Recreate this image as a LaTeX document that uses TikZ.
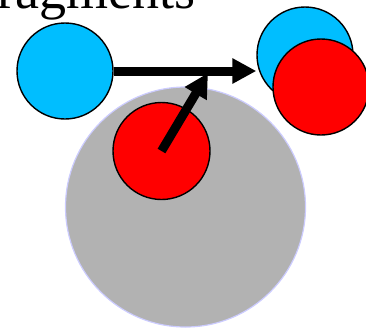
\documentclass[tikz,border=0pt]{standalone}
\usepackage{fontspec}
\setmainfont{Liberation Serif}
\usetikzlibrary{arrows.meta,positioning}
\definecolor{skyb}{RGB}{0,190,255}
\definecolor{nucgray}{RGB}{178,178,178}
\definecolor{lavend}{RGB}{204,204,255}
\begin{document}
\begin{tikzpicture}[x=1pt,y=-1pt, ball/.style={circle,draw,line width=1.4pt,inner sep=0pt,minimum size=96pt}, push/.style={line width=9pt,-{Triangle[length=24pt,width=24pt]}}]
\useasboundingbox (0,0) rectangle (366,327);
\node[anchor=base west,inner sep=0pt,font=\fontsize{54}{60}\selectfont] (title) at (-33,8) {Fragments};
\node[circle,fill=nucgray,draw=lavend,line width=1.2pt,inner sep=0pt,minimum size=240pt] (nucleus) at (185.5,207) {};
\node[ball,fill=red,minimum size=97pt] (redin) at (161.5,151) {};
\node[ball,fill=skyb] (bluein) at (65,71) {};
\node[ball,fill=skyb] (blueout) at (305,55) {};
\node[ball,fill=red] (redout) at (321,87) {};
\coordinate (hit) at (208,73);
\draw[push] (bluein.east)--(bluein.east-|blueout.west);
\draw[push] (redin.center)--(hit);
\end{tikzpicture}
\end{document}
